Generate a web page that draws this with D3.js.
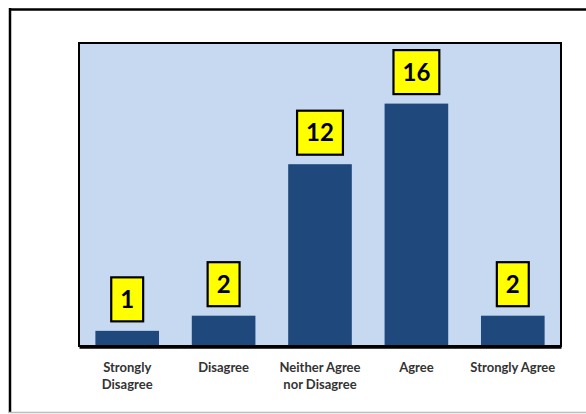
<!DOCTYPE html>
<html>
<head>
<meta charset="utf-8">
<script src="https://cdn.jsdelivr.net/npm/d3@7"></script>
<style>
  html, body { margin: 0; padding: 0; background: #ffffff; }
  svg { display: block; }
</style>
</head>
<body>
<svg id="chart" width="586" height="414"></svg>
<script>
// Survey responses per answer option
const categories = ["Strongly Disagree", "Disagree", "Neither Agree nor Disagree", "Agree", "Strongly Agree"];
const categoryLines = [["Strongly", "Disagree"], ["Disagree"], ["Neither Agree", "nor Disagree"], ["Agree"], ["Strongly Agree"]];
const counts = [1, 2, 12, 16, 2];
const yDomain = [0, 20];

const svg = d3.select("#chart");
const W = 586, H = 414;
const plot = { left: 79, right: 561, top: 43, bottom: 346 };

// Outer frame: black top and left edges, light grey bottom edge
svg.append("line").attr("x1", 9).attr("x2", W).attr("y1", 9.5).attr("y2", 9.5)
  .attr("stroke", "#000").attr("stroke-width", 2.5);
svg.append("line").attr("x1", 10).attr("x2", 10).attr("y1", 8).attr("y2", 413)
  .attr("stroke", "#000").attr("stroke-width", 2.5);
svg.append("line").attr("x1", 9).attr("x2", W).attr("y1", 412.5).attr("y2", 412.5)
  .attr("stroke", "#bdbdbd").attr("stroke-width", 1.5);

const x = d3.scaleBand()
  .domain(categories)
  .range([plot.left, plot.right])
  .paddingInner(0.34)
  .paddingOuter(0.17);

const y = d3.scaleLinear().domain(yDomain).range([plot.bottom, plot.top]);

// Plot area background
svg.append("rect")
  .attr("x", plot.left).attr("y", plot.top)
  .attr("width", plot.right - plot.left).attr("height", plot.bottom - plot.top)
  .attr("fill", "#c6d9f1");

// Bars
svg.append("g").selectAll("rect")
  .data(counts)
  .join("rect")
  .attr("x", (d, i) => x(categories[i]))
  .attr("y", d => y(d))
  .attr("width", x.bandwidth())
  .attr("height", d => y(0) - y(d))
  .attr("fill", "#1f497d");

// Plot area border
svg.append("rect")
  .attr("x", plot.left).attr("y", plot.top)
  .attr("width", plot.right - plot.left).attr("height", plot.bottom - plot.top)
  .attr("fill", "none").attr("stroke", "#000").attr("stroke-width", 2);

// Category axis
const xAxis = svg.append("g")
  .attr("transform", `translate(0,${plot.bottom + 1})`)
  .call(d3.axisBottom(x).tickSize(0).tickFormat(""));
xAxis.select(".domain").attr("stroke", "#000").attr("stroke-width", 2.5);

const labels = svg.append("g")
  .attr("font-family", "Lato, 'Open Sans', sans-serif")
  .attr("font-weight", "bold")
  .attr("font-size", 13)
  .attr("fill", "#333333")
  .attr("text-anchor", "middle");

categories.forEach((c, i) => {
  const t = labels.append("text")
    .attr("x", x(c) + x.bandwidth() / 2)
    .attr("y", 371.5);
  categoryLines[i].forEach((ln, j) => {
    t.append("tspan")
      .attr("x", x(c) + x.bandwidth() / 2)
      .attr("dy", j === 0 ? 0 : 17)
      .text(ln);
  });
});

// Value callouts: yellow boxes above each bar
const callouts = svg.append("g");
counts.forEach((d, i) => {
  const cx = x(categories[i]) + x.bandwidth() / 2;
  const boxBottom = y(d) - 9.5;
  const boxH = 44;
  const g = callouts.append("g");
  const rect = g.append("rect");
  const txt = g.append("text")
    .attr("x", cx)
    .attr("y", boxBottom - boxH / 2)
    .attr("dy", "0.36em")
    .attr("text-anchor", "middle")
    .attr("font-family", "Lato, 'Open Sans', sans-serif")
    .attr("font-weight", "bold")
    .attr("font-size", 24)
    .attr("fill", "#000")
    .text(d);
  const w = txt.node().getComputedTextLength() + 18;
  rect.attr("x", cx - w / 2).attr("y", boxBottom - boxH)
    .attr("width", w).attr("height", boxH)
    .attr("fill", "#ffff00").attr("stroke", "#000").attr("stroke-width", 2.2);
});
</script>
</body>
</html>
